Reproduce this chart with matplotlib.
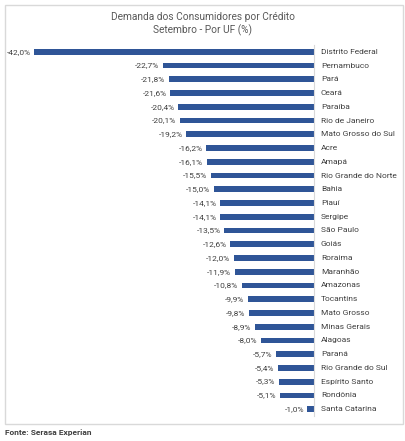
import matplotlib
matplotlib.use('Agg')
import matplotlib.pyplot as plt
from matplotlib.patches import Rectangle

plt.rcParams['font.family'] = ['Roboto', 'DejaVu Sans']

estados = ['Distrito Federal', 'Pernambuco', 'Pará', 'Ceará', 'Paraíba',
           'Rio de Janeiro', 'Mato Grosso do Sul', 'Acre', 'Amapá',
           'Rio Grande do Norte', 'Bahia', 'Piauí', 'Sergipe', 'São Paulo',
           'Goiás', 'Roraima', 'Maranhão', 'Amazonas', 'Tocantins',
           'Mato Grosso', 'Minas Gerais', 'Alagoas', 'Paraná',
           'Rio Grande do Sul', 'Espírito Santo', 'Rondônia', 'Santa Catarina']
valores = [-42.0, -22.7, -21.8, -21.6, -20.4, -20.1, -19.2, -16.2, -16.1,
           -15.5, -15.0, -14.1, -14.1, -13.5, -12.6, -12.0, -11.9, -10.8,
           -9.9, -9.8, -8.9, -8.0, -5.7, -5.4, -5.3, -5.1, -1.0]

W, H = 406, 441
fig = plt.figure(figsize=(W / 100, H / 100), dpi=100)

# moldura cinza em volta do grafico
fig.patches.append(Rectangle((5 / W, 1 - 424 / H), 398 / W, 419 / H,
                             transform=fig.transFigure, fill=False,
                             edgecolor='#D9D9D9', linewidth=1))

ax = fig.add_axes([20 / W, 1 - 416 / H, 294 / W, 371 / H])
pos = list(range(len(estados)))
ax.barh(pos, valores, height=0.42, color='#2F5597')
ax.set_ylim(len(estados) - 0.5, -0.5)
ax.set_xlim(-44.1, 0)

for sp in ['top', 'left', 'bottom']:
    ax.spines[sp].set_visible(False)
ax.spines['right'].set_color('#D9D9D9')
ax.spines['right'].set_linewidth(0.8)
ax.set_xticks([])
ax.set_yticks([])

for i, (nome, v) in enumerate(zip(estados, valores)):
    ax.annotate(nome, (0, i), xytext=(5, 0), textcoords='offset points',
                ha='left', va='center', fontsize=6.0, color='#404040')
    txt = f'{v:.1f}%'.replace('.', ',')
    ax.annotate(txt, (v, i), xytext=(-2.5, 0), textcoords='offset points',
                ha='right', va='center', fontsize=6.0, color='#404040')

fig.text(203 / W, 1 - 24 / H, 'Demanda dos Consumidores por Crédito\nSetembro - Por UF (%)',
         ha='center', va='center', fontsize=7.3, color='#595959', linespacing=1.35)
fig.text(5 / W, 1 - 432 / H, 'Fonte: Serasa Experian', ha='left', va='center',
         fontsize=6.0, fontweight='bold', color='#404040')

fig.savefig('out.png', dpi=100)
